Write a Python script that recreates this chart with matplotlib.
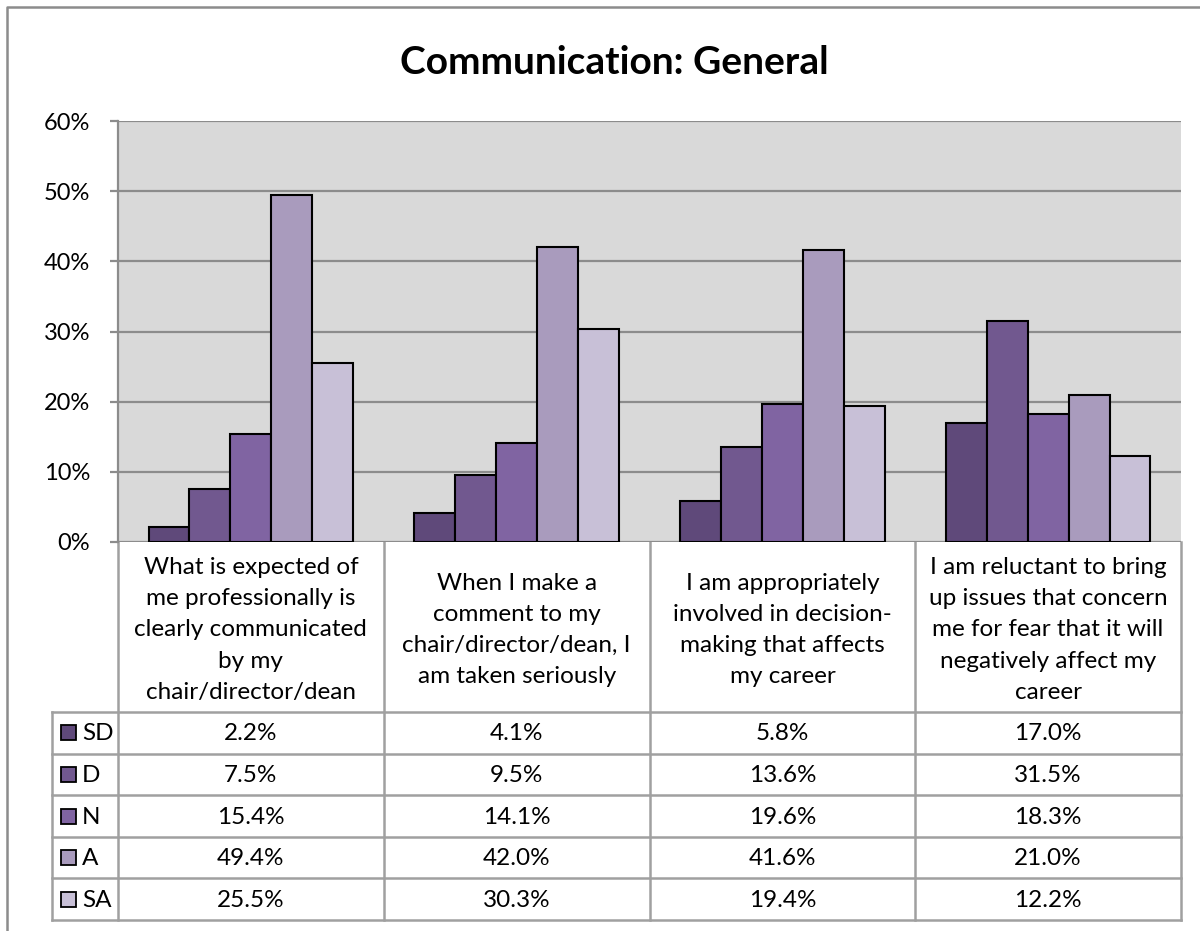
import matplotlib
matplotlib.use("Agg")
import matplotlib.pyplot as plt
import numpy as np

plt.rcParams['font.family'] = ['Lato', 'DejaVu Sans']

# ---- data ----
questions = [
    "What is expected of\nme professionally is\nclearly communicated\nby my\nchair/director/dean",
    "When I make a\ncomment to my\nchair/director/dean, I\nam taken seriously",
    "I am appropriately\ninvolved in decision-\nmaking that affects\nmy career",
    "I am reluctant to bring\nup issues that concern\nme for fear that it will\nnegatively affect my\ncareer",
]
series = ["SD", "D", "N", "A", "SA"]
sd = [2.2, 4.1, 5.8, 17.0]
d = [7.5, 9.5, 13.6, 31.5]
n = [15.4, 14.1, 19.6, 18.3]
a = [49.4, 42.0, 41.6, 21.0]
sa = [25.5, 30.3, 19.4, 12.2]
values = [sd, d, n, a, sa]
colors = ["#5f497a", "#71588f", "#8064a2", "#a99bbd", "#c8c0d7"]
yticks = [0, 10, 20, 30, 40, 50, 60]

W, H = 1200, 931
fig = plt.figure(figsize=(W / 100, H / 100), dpi=100)

# overlay in pixel coordinates for frame + table
ov = fig.add_axes([0, 0, 1, 1])
ov.set_xlim(0, W)
ov.set_ylim(H, 0)
ov.axis('off')

# plot area box (pixels)
L, R, T, B = 118, 1181, 121, 542
ax = fig.add_axes([L / W, 1 - B / H, (R - L) / W, (B - T) / H])
ax.set_facecolor("#d9d9d9")
ax.set_xlim(0, len(questions))
ax.set_ylim(0, 60)
ax.set_yticks(yticks)
ax.set_yticklabels([f"{t}%" for t in yticks], fontsize=17)
ax.set_xticks([])
ax.yaxis.grid(True, color="#8c8c8c", lw=1.6)
ax.set_axisbelow(True)
for s in ["top", "right", "bottom"]:
    ax.spines[s].set_visible(False)
ax.spines["left"].set_color("#8c8c8c")
ax.spines["left"].set_linewidth(1.6)
ax.tick_params(axis='y', length=6, width=1.6, color="#8c8c8c", pad=14)

bw = 0.154
x = np.arange(len(questions)) + 0.5
for i, (vals, c) in enumerate(zip(values, colors)):
    ax.bar(x + (i - 2) * bw, vals, bw, color=c, edgecolor="black", lw=1.5, zorder=3)

# title
fig.text(614 / W, 1 - 62 / H, "Communication: General", ha="center", va="center",
         fontsize=28, fontweight="bold")

# outer frame (left/top edges visible)
ov.plot([7, 7, W], [H, 7, 7], color="#8c8c8c", lw=1.8)

# table
gray = "#a0a0a0"
col_x = [L + (R - L) * k / len(questions) for k in range(len(questions) + 1)]
row_y = [712 + 41.6 * k for k in range(len(series) + 1)]
tab_left = 52
for xc in col_x:
    ov.plot([xc, xc], [B, row_y[-1]], color=gray, lw=1.8)
ov.plot([tab_left, tab_left], [row_y[0], row_y[-1]], color=gray, lw=1.8)
for yr in row_y:
    ov.plot([tab_left, R], [yr, yr], color=gray, lw=1.8)

for k, q in enumerate(questions):
    ov.text((col_x[k] + col_x[k + 1]) / 2, (B + row_y[0]) / 2 + 3, q, ha="center",
            va="center", fontsize=17.5, linespacing=1.6)

for i, name in enumerate(series):
    yc = (row_y[i] + row_y[i + 1]) / 2
    ov.add_patch(plt.Rectangle((61, yc - 7.5), 15, 15, facecolor=colors[i],
                               edgecolor="black", lw=1.3))
    ov.text(82, yc + 1, name, ha="left", va="center", fontsize=17.5)
    for k in range(len(questions)):
        ov.text((col_x[k] + col_x[k + 1]) / 2, yc + 1, f"{values[i][k]:.1f}%",
                ha="center", va="center", fontsize=17.5)

fig.savefig("out.png", dpi=100)
